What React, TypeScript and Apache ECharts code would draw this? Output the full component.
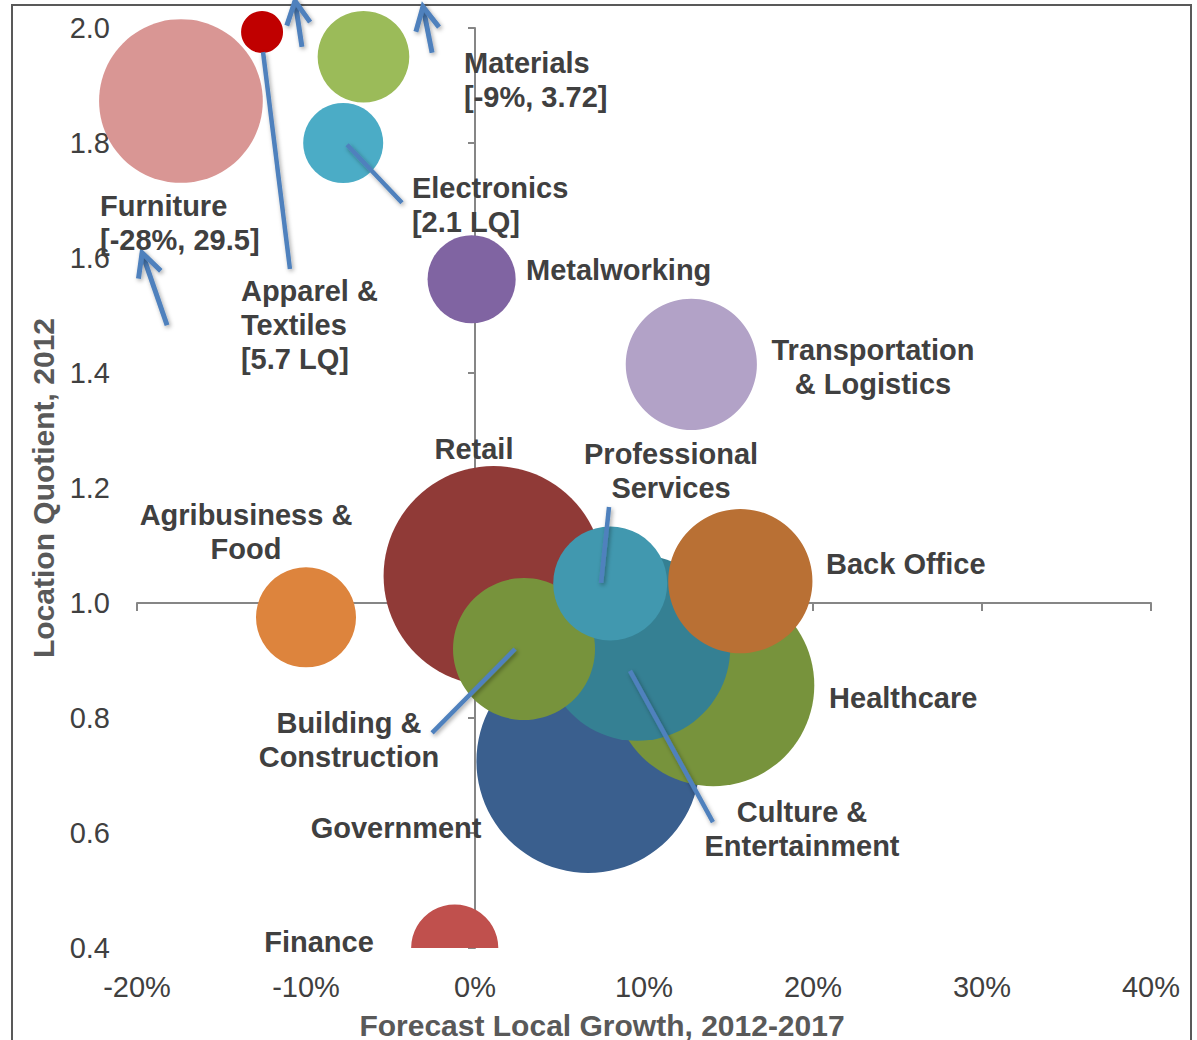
import React, { useEffect, useRef } from "react";
import * as echarts from "echarts";

// ---------- Data ----------
const sectors = [
  "Furniture",
  "Apparel & Textiles",
  "Materials",
  "Electronics",
  "Metalworking",
  "Transportation & Logistics",
  "Agribusiness & Food",
  "Finance",
  "Government",
  "Retail",
  "Healthcare",
  "Culture & Entertainment",
  "Building & Construction",
  "Professional Services",
  "Back Office",
];
// Forecast local growth 2012-2017 (%)
const growth = [-17.4, -12.6, -6.6, -7.8, -0.2, 12.8, -10.0, -1.2, 6.7, 1.1, 14.1, 9.6, 2.9, 8.0, 15.7];
// Location quotient 2012
const lq = [1.873, 1.993, 1.95, 1.8, 1.563, 1.415, 0.975, 0.4, 0.725, 1.047, 0.857, 0.922, 0.92, 1.034, 1.038];
// Bubble size (employment, relative)
const employment = [67, 4.4, 21, 16, 19.4, 43, 25, 19, 125, 121, 102, 86.5, 50.4, 32.5, 52];
const colors = [
  "#D99694", "#C00000", "#9BBB59", "#4BACC6", "#8064A2", "#B2A2C7", "#DD843D", "#C0504D",
  "#3A5F8E", "#903A37", "#77933C", "#358093", "#77933C", "#4198AF", "#B97034",
];

// Axis ticks
const xMin = -20, xMax = 40, xStep = 10;
const yMin = 0.4, yMax = 2.0, yStep = 0.2;
const xCross = 1.0; // horizontal axis crosses at LQ = 1.0
const yCross = 0; // vertical axis crosses at 0% growth

// Data labels (anchored in data units)
const labelText = [
  "Materials\n[-9%, 3.72]",
  "Electronics\n[2.1 LQ]",
  "Furniture\n[-28%, 29.5]",
  "Apparel &\nTextiles\n[5.7 LQ]",
  "Metalworking",
  "Transportation\n& Logistics",
  "Retail",
  "Professional\nServices",
  "Agribusiness &\nFood",
  "Back Office",
  "Healthcare",
  "Building &\nConstruction",
  "Culture &\nEntertainment",
  "Government",
  "Finance",
];
const labelGrowth = [-0.65, -3.73, -22.19, -13.85, 3.02, 23.55, -0.06, 11.6, -13.55, 20.77, 20.95, -7.46, 19.35, -4.67, -9.23];
const labelLQ = [1.91, 1.693, 1.661, 1.484, 1.579, 1.41, 1.268, 1.229, 1.123, 1.068, 0.835, 0.762, 0.607, 0.609, 0.41];
const labelAlign = ["left", "left", "left", "left", "left", "center", "center", "center", "center", "left", "left", "center", "center", "center", "center"];

// Leader lines (data units)
const leaderX1 = [-12.54, -7.57, 7.93, 2.37, 9.17];
const leaderY1 = [1.958, 1.797, 1.167, 0.92, 0.882];
const leaderX2 = [-10.95, -4.32, 7.46, -2.54, 14.08];
const leaderY2 = [1.581, 1.696, 1.035, 0.774, 0.619];

// Off-chart arrows (start -> tip, data units)
const arrowX1 = [-18.22, -10.24, -2.54];
const arrowY1 = [1.483, 1.967, 1.957];
const arrowX2 = [-19.7, -10.65, -3.08];
const arrowY2 = [1.609, 2.047, 2.037];

const FONT = '"Liberation Sans", Arial, Helvetica, sans-serif';
const BLUE = "#4F81BD";
const lineStyleBase = {
  stroke: BLUE,
  lineWidth: 4.5,
  shadowBlur: 4,
  shadowColor: "rgba(0,0,0,0.35)",
  shadowOffsetX: 1.5,
  shadowOffsetY: 2,
};

export default function App() {
  const ref = useRef<HTMLDivElement>(null);

  useEffect(() => {
    if (!ref.current) return;
    const chart = echarts.init(ref.current, undefined, { renderer: "svg" });

    const gridLeft = 137, gridRight = 46, gridTop = 28, gridBottom = 92;
    const W = 1197, H = 1040;
    const gridW = W - gridLeft - gridRight;
    const gridH = H - gridTop - gridBottom;
    const xLineOffset = -((yMax - xCross) / (yMax - yMin)) * gridH;
    const yLineOffset = -((xMax - yCross) / (xMax - xMin)) * gridW;

    const axisGray = "#868686";

    const option: any = {
      animation: false,
      backgroundColor: "#ffffff",
      grid: { left: gridLeft, right: gridRight, top: gridTop, bottom: gridBottom, containLabel: false },
      xAxis: [
        {
          type: "value",
          min: xMin,
          max: xMax,
          interval: xStep,
          position: "bottom",
          axisLine: { show: false, onZero: false },
          axisTick: { show: false },
          splitLine: { show: false },
          axisLabel: {
            formatter: (v: number) => `${v}%`,
            fontSize: 29,
            fontFamily: FONT,
            color: "#404040",
            margin: 24,
          },
        },
        {
          type: "value",
          min: xMin,
          max: xMax,
          interval: xStep,
          position: "top",
          offset: xLineOffset,
          axisLine: { show: true, onZero: false, lineStyle: { color: axisGray, width: 2 } },
          axisTick: { show: true, inside: true, length: 8, lineStyle: { color: axisGray, width: 2 } },
          axisLabel: { show: false },
          splitLine: { show: false },
        },
      ],
      yAxis: [
        {
          type: "value",
          min: yMin,
          max: yMax,
          interval: yStep,
          position: "left",
          axisLine: { show: false, onZero: false },
          axisTick: { show: false },
          splitLine: { show: false },
          axisLabel: {
            formatter: (v: number) => v.toFixed(1),
            fontSize: 29,
            fontFamily: FONT,
            color: "#404040",
            margin: 27,
          },
          name: "Location Quotient, 2012",
          nameLocation: "middle",
          nameGap: 75,
          nameTextStyle: { fontSize: 30, fontWeight: "bold", fontFamily: FONT, color: "#595959" },
        },
        {
          type: "value",
          min: yMin,
          max: yMax,
          interval: yStep,
          position: "right",
          offset: yLineOffset,
          axisLine: { show: true, onZero: false, lineStyle: { color: axisGray, width: 2 } },
          axisTick: { show: true, inside: true, length: 7, lineStyle: { color: axisGray, width: 2 } },
          axisLabel: { show: false },
          splitLine: { show: false },
        },
      ],
      graphic: [
        {
          type: "rect",
          silent: true,
          shape: { x: 12, y: 5, width: 1179, height: 1070 },
          style: { fill: "none", stroke: "#595959", lineWidth: 2 },
          z: 0,
        },
        {
          type: "text",
          silent: true,
          x: 602,
          y: 1025,
          style: {
            text: "Forecast Local Growth, 2012-2017",
            fontSize: 30,
            fontWeight: "bold",
            fontFamily: FONT,
            fill: "#595959",
            align: "center",
            verticalAlign: "middle",
            textAlign: "center",
            textVerticalAlign: "middle",
          },
        },
      ],
      series: [
        {
          name: "Bubbles",
          type: "custom",
          xAxisIndex: 0,
          yAxisIndex: 0,
          clip: false,
          data: sectors.map((s, i) => ({ name: s, value: [growth[i], lq[i], employment[i], i] })),
          renderItem: (params: any, api: any) => {
            const c = api.coord([api.value(0), api.value(1)]);
            const r = 10 * Math.sqrt(api.value(2));
            const idx = api.value(3);
            const bottom = api.coord([xMin, yMin])[1];
            return {
              type: "circle",
              shape: { cx: c[0], cy: c[1], r },
              style: { fill: colors[idx] },
              clipPath: { type: "rect", shape: { x: 0, y: 0, width: W, height: bottom } },
            };
          },
        },
        {
          name: "Leaders",
          type: "custom",
          xAxisIndex: 0,
          yAxisIndex: 0,
          clip: false,
          silent: true,
          data: leaderX1.map((x, i) => [x, leaderY1[i], leaderX2[i], leaderY2[i]]),
          renderItem: (params: any, api: any) => {
            const p1 = api.coord([api.value(0), api.value(1)]);
            const p2 = api.coord([api.value(2), api.value(3)]);
            return {
              type: "line",
              shape: { x1: p1[0], y1: p1[1], x2: p2[0], y2: p2[1] },
              style: { ...lineStyleBase },
            };
          },
        },
        {
          name: "Arrows",
          type: "custom",
          xAxisIndex: 0,
          yAxisIndex: 0,
          clip: false,
          silent: true,
          data: arrowX1.map((x, i) => [x, arrowY1[i], arrowX2[i], arrowY2[i]]),
          renderItem: (params: any, api: any) => {
            const p1 = api.coord([api.value(0), api.value(1)]);
            const p2 = api.coord([api.value(2), api.value(3)]);
            const dx = p1[0] - p2[0];
            const dy = p1[1] - p2[1];
            const len = Math.hypot(dx, dy) || 1;
            const ux = dx / len, uy = dy / len;
            const a = (27 * Math.PI) / 180;
            const L = 26;
            const rot = (ang: number) => [ux * Math.cos(ang) - uy * Math.sin(ang), ux * Math.sin(ang) + uy * Math.cos(ang)];
            const w1 = rot(a), w2 = rot(-a);
            return {
              type: "group",
              children: [
                {
                  type: "line",
                  shape: { x1: p1[0], y1: p1[1], x2: p2[0], y2: p2[1] },
                  style: { ...lineStyleBase, lineWidth: 5 },
                },
                {
                  type: "polyline",
                  shape: {
                    points: [
                      [p2[0] + w1[0] * L, p2[1] + w1[1] * L],
                      [p2[0], p2[1]],
                      [p2[0] + w2[0] * L, p2[1] + w2[1] * L],
                    ],
                  },
                  style: { ...lineStyleBase, fill: "none", lineWidth: 5, lineJoin: "miter" },
                },
              ],
            };
          },
        },
        {
          name: "Labels",
          type: "custom",
          xAxisIndex: 0,
          yAxisIndex: 0,
          clip: false,
          silent: true,
          data: labelText.map((t, i) => [labelGrowth[i], labelLQ[i], i]),
          renderItem: (params: any, api: any) => {
            const p = api.coord([api.value(0), api.value(1)]);
            const i = api.value(2);
            return {
              type: "text",
              x: p[0],
              y: p[1],
              style: {
                text: labelText[i],
                fontSize: 29,
                fontWeight: "bold",
                fontFamily: FONT,
                fill: "#404040",
                lineHeight: 34,
                align: labelAlign[i],
                verticalAlign: "middle",
                textAlign: labelAlign[i],
                textVerticalAlign: "middle",
              },
            };
          },
        },
      ],
    };

    chart.setOption(option);
    return () => {
      chart.dispose();
    };
  }, []);

  return (
    <div
      ref={ref}
      style={{ position: "absolute", left: 0, top: 0, width: 1197, height: 1040, background: "#fff" }}
    />
  );
}
